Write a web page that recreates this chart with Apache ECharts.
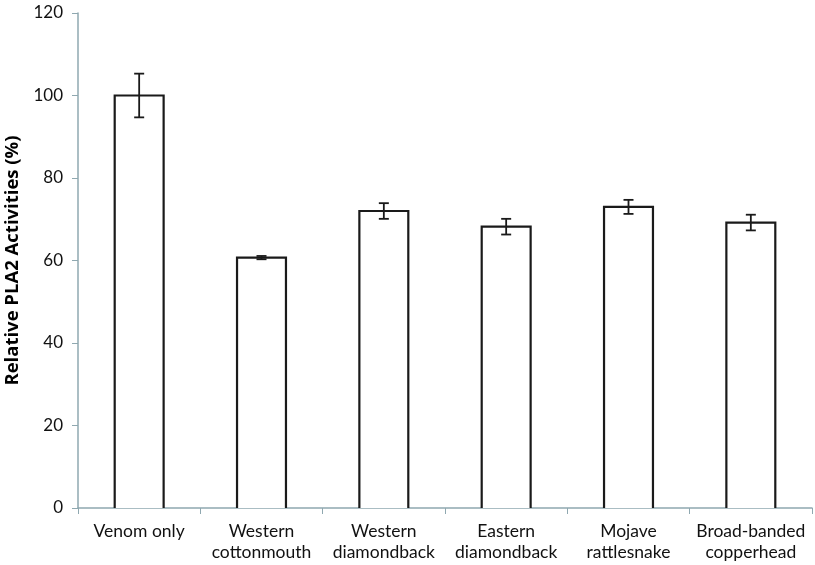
<!DOCTYPE html>
<html>
<head>
<meta charset="utf-8">
<script src="https://cdn.jsdelivr.net/npm/echarts@6/dist/echarts.min.js"></script>
<style>html,body{margin:0;padding:0;background:#fff}#c{width:815px;height:565px}</style>
</head>
<body>
<div id="c"></div>
<script>
const categories = ["Venom only", "Western\ncottonmouth", "Western\ndiamondback", "Eastern\ndiamondback", "Mojave\nrattlesnake", "Broad-banded\ncopperhead"];
const values = [100, 60.7, 72, 68.2, 73, 69.2];
const errors = [5.3, 0.4, 1.9, 1.9, 1.7, 1.9];
const yTicks = [0, 20, 40, 60, 80, 100, 120];

const axisColor = '#8fa8b0';
const font = 'Lato, "Open Sans", sans-serif';
const chart = echarts.init(document.getElementById('c'));
chart.setOption({
  animation: false,
  grid: {left: 78, right: 3, top: 13, bottom: 57, outerBoundsMode: 'none', containLabel: false},
  xAxis: {
    type: 'category', data: categories,
    axisLine: {lineStyle: {color: axisColor, width: 1.5}},
    axisTick: {show: true, alignWithLabel: false, length: 6, lineStyle: {color: axisColor}},
    axisLabel: {color: '#111', fontFamily: font, fontSize: 17.5, lineHeight: 21, margin: 13, interval: 0}
  },
  yAxis: {
    type: 'value', min: yTicks[0], max: yTicks[yTicks.length - 1], interval: 20,
    name: 'Relative PLA2 Activities (%)', nameLocation: 'middle', nameGap: 51,
    nameTextStyle: {fontFamily: '"Open Sans", sans-serif', fontSize: 18.5, fontWeight: 'bold', color: '#000'},
    axisLine: {show: true, lineStyle: {color: axisColor, width: 1.5}},
    axisTick: {show: true, length: 6, lineStyle: {color: axisColor}},
    axisLabel: {color: '#111', fontFamily: font, fontSize: 17, margin: 15},
    splitLine: {show: false}
  },
  series: [
    {
      type: 'custom',
      data: values.map((v, i) => [i, v]),
      renderItem: function (params, api) {
        const top = api.coord([api.value(0), api.value(1)]);
        const base = api.coord([api.value(0), 0]);
        const w = api.size([1, 0])[0] * 0.4;
        return {type: 'polyline', shape: {points: [
          [top[0] - w / 2, base[1]], [top[0] - w / 2, top[1]],
          [top[0] + w / 2, top[1]], [top[0] + w / 2, base[1]]
        ]}, style: {fill: '#fff', stroke: '#1a1a1a', lineWidth: 2.2}};
      },
      z: 5
    },
    {
      type: 'custom',
      data: values.map((v, i) => [i, v - errors[i], v + errors[i]]),
      renderItem: function (params, api) {
        const lo = api.coord([api.value(0), api.value(1)]);
        const hi = api.coord([api.value(0), api.value(2)]);
        const hw = 5;
        const st = {stroke: '#1a1a1a', lineWidth: 1.8};
        return {type: 'group', children: [
          {type: 'line', shape: {x1: hi[0], y1: hi[1], x2: lo[0], y2: lo[1]}, style: st},
          {type: 'line', shape: {x1: hi[0] - hw, y1: hi[1], x2: hi[0] + hw, y2: hi[1]}, style: st},
          {type: 'line', shape: {x1: lo[0] - hw, y1: lo[1], x2: lo[0] + hw, y2: lo[1]}, style: st}
        ]};
      },
      z: 10
    }
  ]
});
</script>
</body>
</html>
